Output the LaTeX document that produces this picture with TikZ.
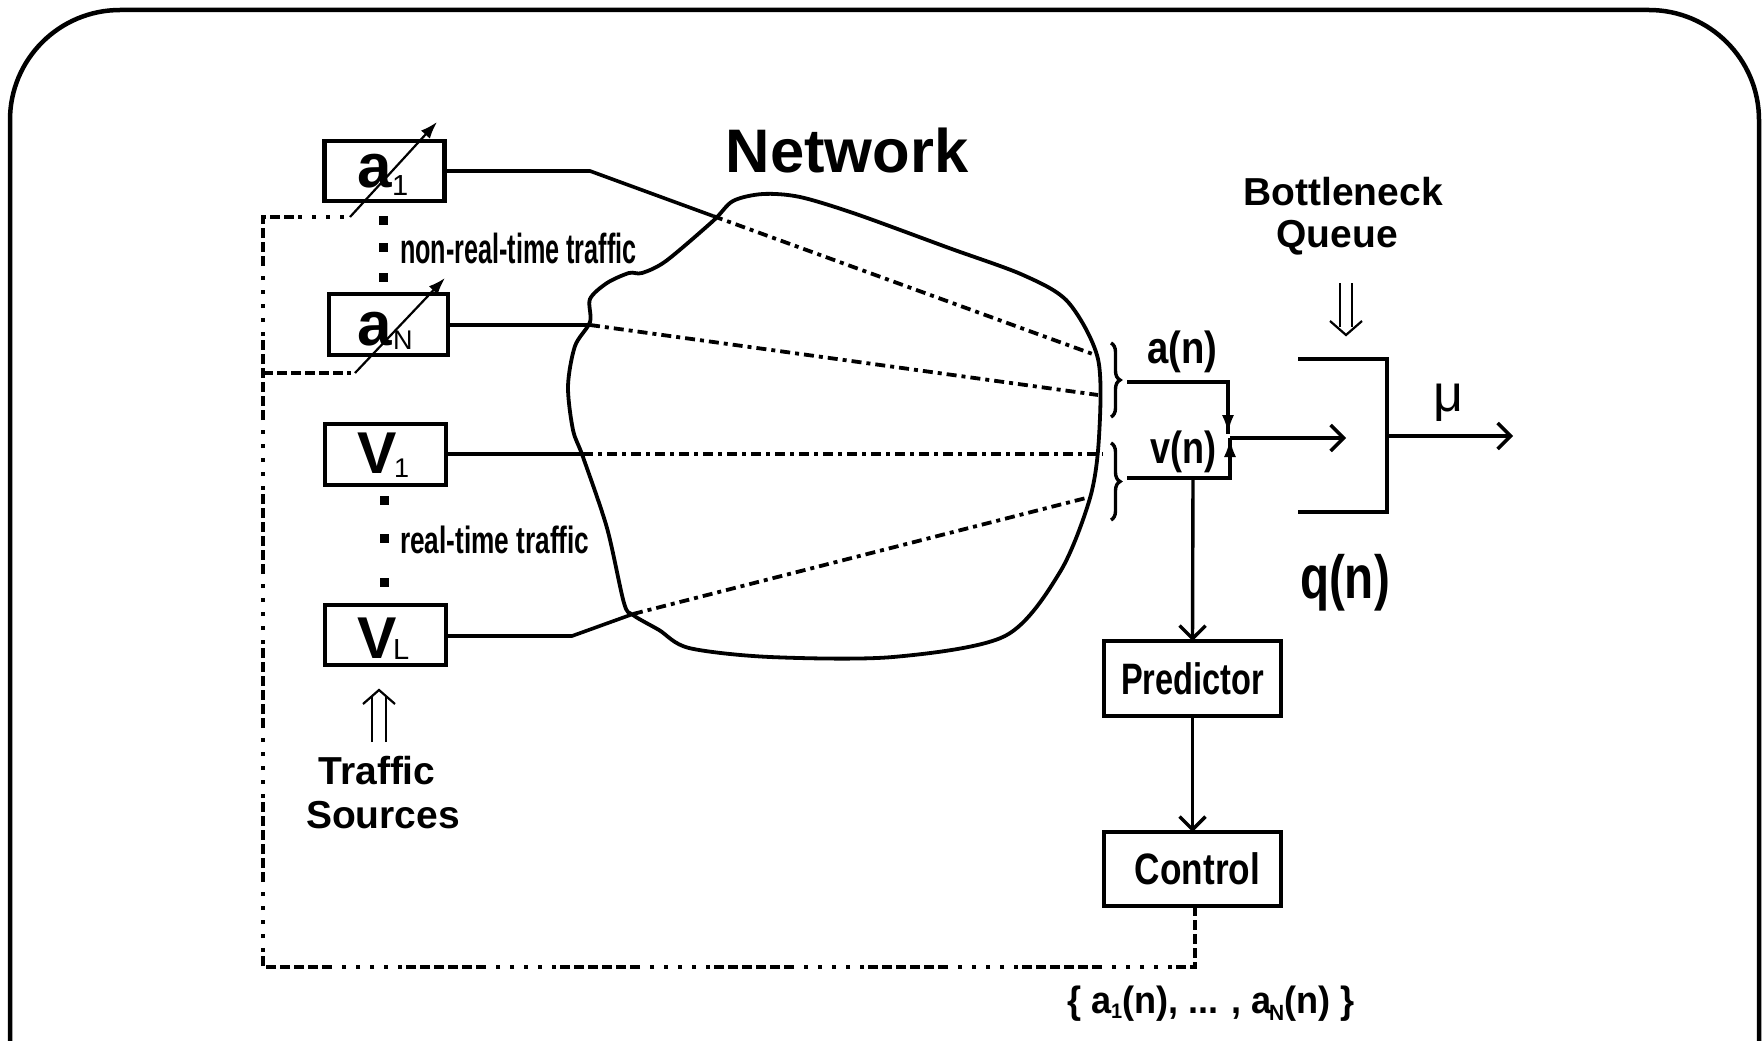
\documentclass[tikz,border=0pt]{standalone}
\usepackage{fontspec}
\setmainfont{Liberation Sans}
\usetikzlibrary{arrows.meta,decorations.pathreplacing}
\newcommand{\fsz}[1]{\fontsize{#1}{#1}\selectfont}
\newcommand{\cnd}[2]{\scalebox{#1}[1]{#2}}
\tikzset{
  box/.style={draw, line width=4.5pt, inner sep=0pt, outer sep=0pt},
  txt/.style={inner sep=0pt, outer sep=0pt},
  conn/.style={line width=3.6pt},
  dd/.style={line width=3.8pt, dash pattern=on 10pt off 5pt on 4pt off 5pt},
  fb/.style={line width=3.6pt, dash pattern=on 10pt off 4pt on 10pt off 4pt on 10pt off 4pt on 10pt off 4pt on 10pt off 4pt on 10pt off 4pt on 4pt off 10pt on 4pt off 10pt on 4pt off 10pt on 4pt off 10pt on 4pt off 10pt},
  openarr/.style={line width=3.4pt, -{Straight Barb[length=13pt,width=26pt]}},
  vararr/.style={line width=2.2pt, -{Latex[length=17pt,width=12pt]}},
  smallarr/.style={line width=3.6pt, -{Latex[length=19pt,width=12pt]}},
  dblline/.style={line width=2.2pt},
  sq/.style={fill, minimum size=9pt, inner sep=0pt, outer sep=0pt}
}
\begin{document}
\begin{tikzpicture}[x=1pt,y=-1pt]
\useasboundingbox (0,0) rectangle (1762,1041);
% frame
\draw[line width=4.5pt, rounded corners=110pt] (10,1041) -- (10,10) -- (1759,10) -- (1759,1041);

% network cloud
\draw[line width=3.8pt] plot[smooth cycle, tension=0.5] coordinates {
 (763,194) (800,197) (856,214) (949,248) (1023,275) (1068,302) (1098,359)
 (1099,437) (1090,498) (1060,572) (1005,636) (893,657) (770,657) (689,648)
 (659,630) (633,615) (624,603) (607,528) (583,457) (573,430) (568,386)
 (575,346) (590,322) (590,299) (607,283) (629,273) (642,273) (666,261)
 (713,221) (733,201)};
\node[txt, anchor=base] (net) at (847,172) {\fsz{61.5}\bfseries Network};

% source boxes
\node[box, minimum width=120pt, minimum height=60pt] (a1) at (384.7,171) {};
\node[box, minimum width=119pt, minimum height=61pt] (aN) at (388.5,324.5) {};
\node[box, minimum width=121pt, minimum height=61pt] (V1) at (385.5,454.5) {};
\node[box, minimum width=121pt, minimum height=60pt] (VL) at (385.5,635) {};
\node[txt, anchor=base west] (a1t) at (357,187) {\fsz{62}\bfseries a};
\node[txt, anchor=base west] (a1s) at (392,195) {\fsz{29}1};
\node[txt, anchor=base west] (aNt) at (357,345) {\fsz{62}\bfseries a};
\node[txt, anchor=base west] (aNs) at (393,349) {\fsz{27}N};
\node[txt, anchor=base west] (V1t) at (357,473) {\fsz{59}\bfseries V};
\node[txt, anchor=base west] (V1s) at (394,477) {\fsz{27}1};
\node[txt, anchor=base west] (VLt) at (357,658) {\fsz{59}\bfseries V};
\node[txt, anchor=base west] (VLs) at (393,659) {\fsz{29}L};

% vertical dots
\node[sq] (d1) at (383,220) {};
\node[sq] (d2) at (383,247) {};
\node[sq] (d3) at (383,277) {};
\node[sq] (d4) at (384,500) {};
\node[sq] (d5) at (384,538) {};
\node[sq] (d6) at (384,582) {};
\node[txt, anchor=base west] (nrt) at (400,263) {\cnd{0.6}{\fsz{42}\bfseries non-real-time traffic}};
\node[txt, anchor=base west] (rt) at (400,553) {\cnd{0.69}{\fsz{38}\bfseries real-time traffic}};

% traffic sources label and double arrow
\node[txt, anchor=base] (tr1) at (377,784) {\fsz{39}\bfseries Traffic};
\node[txt, anchor=base] (tr2) at (383,828) {\fsz{39}\bfseries Sources};
\draw[dblline] (372,742) -- (372,697);
\draw[dblline] (386,742) -- (386,697);
\draw[dblline] (363,704) -- (379,690) -- (395,704);

% connector coordinates
\coordinate (a1b) at (590,171);
\coordinate (a1x) at (713,216);
\coordinate (a1e) at (1098,356);
\coordinate (aNx) at (590,325);
\coordinate (aNe) at (1098,395);
\coordinate (V1x) at (583,454);
\coordinate (V1e) at (1103,454);
\coordinate (VLb) at (572,636);
\coordinate (VLx) at (633,614);
\coordinate (VLe) at (1086,498);

\draw[conn] (a1.east |- a1b) -- (a1b) -- (a1x);
\draw[dd] (a1x) -- (a1e);
\draw[conn] (aN.east |- aNx) -- (aNx);
\draw[dd] (aNx) -- (aNe);
\draw[conn] (V1.east |- V1x) -- (V1x);
\draw[dd] (V1x) -- (V1e);
\draw[conn] (VL.east |- VLb) -- (VLb) -- (VLx);
\draw[dd] (VLx) -- (VLe);

% braces
\draw[line width=3.4pt, decorate, decoration={brace, amplitude=9pt}] (1111,343) -- (1111,417);
\draw[line width=3.4pt, decorate, decoration={brace, amplitude=9pt}] (1111,443) -- (1111,520);
\node[txt, anchor=base west] (anl) at (1147,363) {\cnd{0.85}{\fsz{45}\bfseries a(n)}};
\node[txt, anchor=base west] (vnl) at (1150,463) {\cnd{0.8}{\fsz{45}\bfseries v(n)}};

\coordinate (an0) at (1127,382);
\coordinate (an1) at (1228,382);
\coordinate (an2) at (1228,434);
\coordinate (vn0) at (1127,478);
\coordinate (vn1) at (1230,478);
\coordinate (vn2) at (1230,438);
\coordinate (vnd) at (1193,478);
\coordinate (qin) at (1346,438);
\draw[conn, line join=miter] (an0) -- (an1) -- (an2);
\draw[smallarr] (an1) -- (an2);
\draw[conn] (vn0) -- (vn1) -- (vn2);
\draw[smallarr] (vn1) -- (vn2);
\draw[openarr] (vn2) -- (qin);

% queue
\coordinate (q1) at (1298,359);
\coordinate (q2) at (1387,359);
\coordinate (q3) at (1387,512);
\coordinate (q4) at (1298,512);
\coordinate (qo) at (1387,436);
\coordinate (qe) at (1513,436);
\draw[conn, line width=4pt, line join=miter] (q1) -- (q2) -- (q3) -- (q4);
\draw[openarr] (qo) -- (qe);
\node[txt] (mu) at (1448,403) {\fsz{52}μ};
\node[txt, anchor=base] (bn1) at (1343,205) {\fsz{39}\bfseries Bottleneck};
\node[txt, anchor=base] (bn2) at (1337,247) {\fsz{39}\bfseries Queue};
\draw[dblline] (1340,283) -- (1340,327);
\draw[dblline] (1352,283) -- (1352,327);
\draw[dblline] (1330,321) -- (1346,335) -- (1362,321);
\node[txt, anchor=base west] (qn) at (1300,598) {\cnd{0.78}{\fsz{61}\bfseries q(n)}};

% predictor and control
\node[box, minimum width=177pt, minimum height=75pt] (pred) at (1192.5,678.5) {\cnd{0.74}{\fsz{44}\bfseries Predictor}};
\node[box, minimum width=177pt, minimum height=74pt] (ctrl) at (1192.5,869) {\hspace*{10pt}\cnd{0.8}{\fsz{44}\bfseries Control}};
\draw[openarr] (vnd) -- (pred.north);
\draw[openarr] (pred.south) -- (ctrl.north);

% feedback
\coordinate (fb1) at (1195,967);
\coordinate (fb2) at (263,967);
\coordinate (fb3) at (263,217);
\coordinate (fb4) at (263,373);
\coordinate (a1s0) at (350,217);
\coordinate (a1s1) at (437,122);
\coordinate (aNs0) at (355,373);
\coordinate (aNs1) at (445,278);
\draw[fb] (ctrl.south -| fb1) -- (fb1) -- (fb2) -- (fb3) -- (a1s0);
\draw[fb] (fb4) -- (aNs0);
\draw[vararr] (a1s0) -- (a1s1);
\draw[vararr] (aNs0) -- (aNs1);
\node[txt, anchor=base west] (setl) at (1067,1013) {\cnd{0.95}{\fsz{38}\bfseries \{ a\raisebox{-5pt}{\fsz{21}1}(n), ... , a\kern-3pt\raisebox{-7pt}{\fsz{22}N}(n) \}}};
\end{tikzpicture}
\end{document}
